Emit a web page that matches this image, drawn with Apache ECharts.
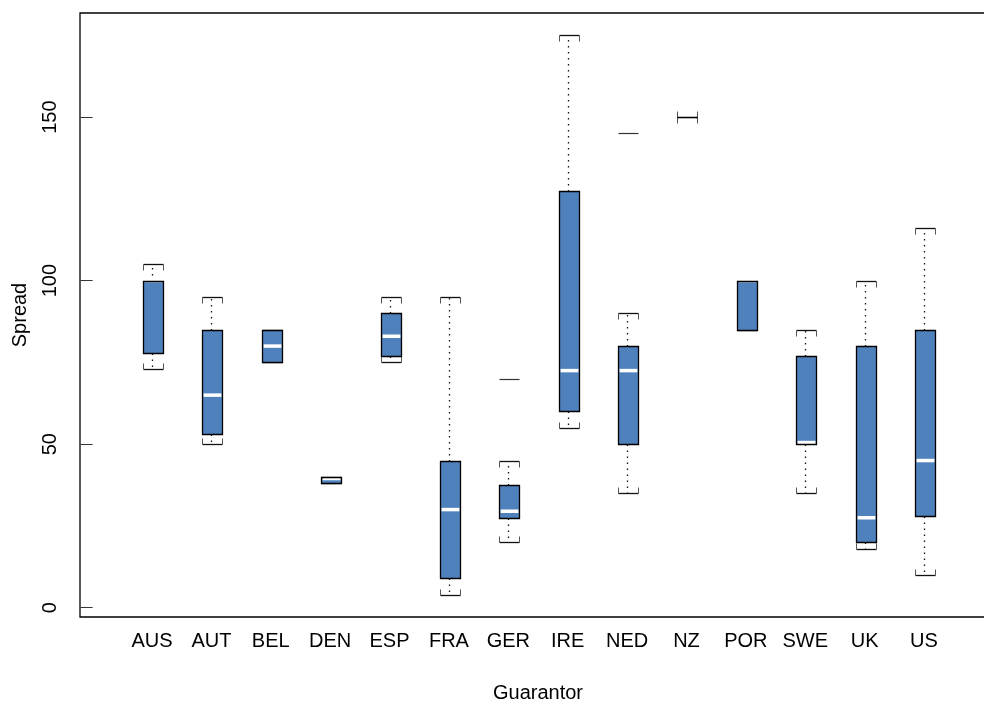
<!DOCTYPE html>
<html>
<head>
<meta charset="utf-8">
<script src="https://cdn.jsdelivr.net/npm/echarts@6/dist/echarts.min.js"></script>
<style>
html,body{margin:0;padding:0;background:#fff;}
#chart{width:984px;height:701px;}
</style>
</head>
<body>
<div id="chart"></div>
<script>
// ---- data ----
const categories = ['AUS','AUT','BEL','DEN','ESP','FRA','GER','IRE','NED','NZ','POR','SWE','UK','US'];
const lowerWhisker = [73, 50, 75, 38, 75, 4, 20, 55, 35, 150, 85, 35, 18, 10];
const q1Values     = [78, 53, 75, 38, 77, 9, 27.5, 60, 50, 150, 85, 50, 20, 28];
const medianValues = [100, 65, 80, 39.5, 83, 30, 29.5, 72.5, 72.5, 150, 100, 50.5, 27.5, 45];
const q3Values     = [100, 85, 85, 40, 90, 45, 37.5, 127.5, 80, 150, 100, 77, 80, 85];
const upperWhisker = [105, 95, 85, 40, 95, 95, 45, 175, 90, 150, 100, 85, 100, 116];
const outlierCategory = ['GER', 'NED'];
const outlierValues   = [70, 145];
const yTicks = [0, 50, 100, 150];

const boxData = categories.map((c, i) => [i + 1, lowerWhisker[i], q1Values[i], medianValues[i], q3Values[i], upperWhisker[i]]);
const outlierData = outlierCategory.map((c, i) => [categories.indexOf(c) + 1, outlierValues[i]]);

const BOX_W = 20, CAP_TICK = 6;
const FILL = '#4F81BD';
const r = v => Math.round(v) + 0.5;

function renderBox(params, api) {
  const x = api.value(0);
  const pMin = api.coord([x, api.value(1)]);
  const pQ1 = api.coord([x, api.value(2)]);
  const pMed = api.coord([x, api.value(3)]);
  const pQ3 = api.coord([x, api.value(4)]);
  const pMax = api.coord([x, api.value(5)]);
  const cx = r(pMin[0]);
  const x0 = Math.round(cx - BOX_W / 2) + 0.5, x1 = x0 + BOX_W;
  const yMin = r(pMin[1]), yQ1 = r(pQ1[1]), yMed = pMed[1], yQ3 = r(pQ3[1]), yMax = r(pMax[1]);
  const dash = {stroke: '#111', lineWidth: 1.3, lineDash: [1.5, 4.5]};
  const cap = {stroke: '#111', lineWidth: 1.3};
  const tick = {stroke: '#555', lineWidth: 1};
  const children = [
    {type: 'line', shape: {x1: cx, y1: yQ3, x2: cx, y2: yMax}, style: dash},
    {type: 'line', shape: {x1: cx, y1: yQ1, x2: cx, y2: yMin}, style: dash},
    // upper cap (bracket pointing down)
    {type: 'line', shape: {x1: x0, y1: yMax, x2: x1, y2: yMax}, style: cap},
    {type: 'line', shape: {x1: x0, y1: yMax, x2: x0, y2: yMax + CAP_TICK}, style: tick},
    {type: 'line', shape: {x1: x1, y1: yMax, x2: x1, y2: yMax + CAP_TICK}, style: tick},
    // lower cap (bracket pointing up)
    {type: 'line', shape: {x1: x0, y1: yMin, x2: x1, y2: yMin}, style: cap},
    {type: 'line', shape: {x1: x0, y1: yMin, x2: x0, y2: yMin - CAP_TICK}, style: tick},
    {type: 'line', shape: {x1: x1, y1: yMin, x2: x1, y2: yMin - CAP_TICK}, style: tick},
    // box fill
    {type: 'rect', shape: {x: x0, y: yQ3, width: BOX_W, height: yQ1 - yQ3}, style: {fill: FILL, stroke: null}},
    // median
    {type: 'line', shape: {x1: x0 + 1, y1: yMed, x2: x1 - 1, y2: yMed}, style: {stroke: '#fff', lineWidth: 3.5}},
    // box outline
    {type: 'rect', shape: {x: x0, y: yQ3, width: BOX_W, height: yQ1 - yQ3}, style: {fill: null, stroke: '#000', lineWidth: 1.3}}
  ];
  return {type: 'group', children: children};
}

function renderOutlier(params, api) {
  const p = api.coord([api.value(0), api.value(1)]);
  const cx = r(p[0]);
  const x0 = Math.round(cx - BOX_W / 2) + 0.5;
  const y = r(p[1]);
  return {type: 'line', shape: {x1: x0, y1: y, x2: x0 + BOX_W, y2: y}, style: {stroke: '#333', lineWidth: 1.2}};
}

const chart = echarts.init(document.getElementById('chart'), null, {renderer: 'canvas'});
const font = 'Liberation Sans, Arial, Helvetica, sans-serif';
chart.setOption({
  animation: false,
  backgroundColor: '#fff',
  grid: {left: 80, top: 13, width: 916, height: 604, outerBoundsMode: 'none', containLabel: false,
    show: true, borderColor: '#000', borderWidth: 1.3, backgroundColor: 'transparent'},
  xAxis: {
    type: 'value', min: -0.2124, max: 15.2124,
    splitLine: {show: false}, axisLine: {show: false}, axisTick: {show: false},
    axisLabel: {customValues: categories.map((c, i) => i + 1), formatter: v => categories[Math.round(v) - 1] || '',
      fontSize: 20, color: '#000', fontFamily: font, margin: 14},
    name: 'Guarantor', nameLocation: 'middle', nameGap: 66,
    nameTextStyle: {fontSize: 20, color: '#000', fontFamily: font}
  },
  yAxis: {
    type: 'value', min: -2.84, max: 181.84,
    splitLine: {show: false}, axisLine: {show: false},
    axisTick: {show: true, customValues: yTicks, length: 12, lineStyle: {color: '#333', width: 1}},
    axisLabel: {customValues: yTicks, rotate: 90, fontSize: 20, color: '#000', fontFamily: font, margin: 20},
    name: 'Spread', nameLocation: 'middle', nameGap: 50, nameRotate: 90,
    nameTextStyle: {fontSize: 20, color: '#000', fontFamily: font}
  },
  series: [
    {type: 'custom', renderItem: renderBox, data: boxData, encode: {x: 0, y: [1, 2, 3, 4, 5]}, clip: false},
    {type: 'custom', renderItem: renderOutlier, data: outlierData, encode: {x: 0, y: 1}}
  ]
});
</script>
</body>
</html>
